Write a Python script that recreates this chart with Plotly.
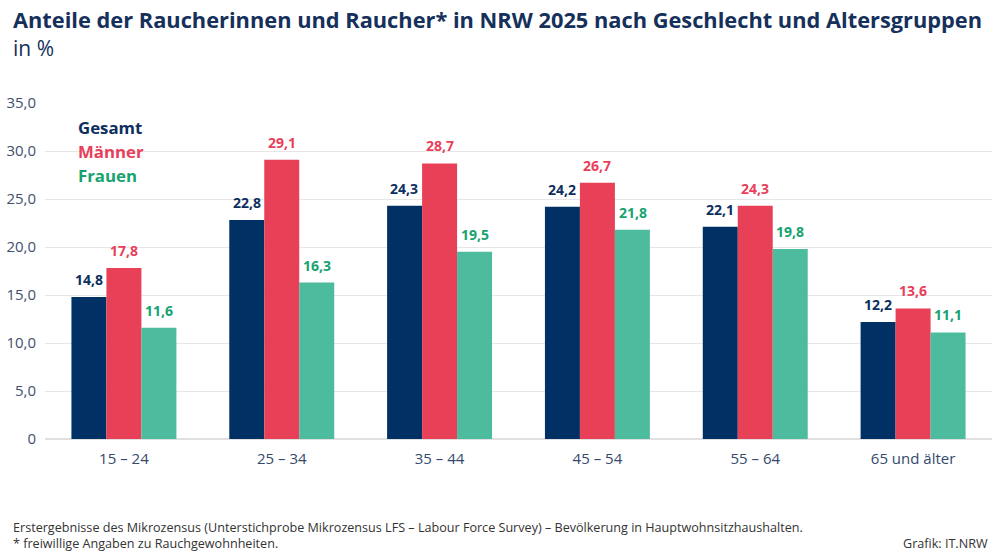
import plotly.graph_objects as go

# Anteile der Raucher nach Altersgruppen (in %)
age_groups = ['15 – 24', '25 – 34', '35 – 44', '45 – 54', '55 – 64', '65 und älter']
gesamt = [14.8, 22.8, 24.3, 24.2, 22.1, 12.2]
maenner = [17.8, 29.1, 28.7, 26.7, 24.3, 13.6]
frauen = [11.6, 16.3, 19.5, 21.8, 19.8, 11.1]

y_ticks = [0, 5, 10, 15, 20, 25, 30, 35]
y_ticktext = ['0', '5,0', '10,0', '15,0', '20,0', '25,0', '30,0', '35,0']

FONT = 'Open Sans'
series = [
    ('Gesamt', gesamt, '#003064', '#0d2f5e'),
    ('Männer', maenner, '#e84057', '#e8405a'),
    ('Frauen', frauen, '#4dbb9e', '#17a26f'),
]

# plot area in pixels: x 45..992, y 103..439
def px_x(x):
    return (x - 45) / 947


def px_y(y):
    return (439 - y) / 336


BAR_PX = 35.2  # width of one bar in the group

fig = go.Figure()
for i, (name, vals, bar_col, txt_col) in enumerate(series):
    fig.add_trace(go.Bar(x=age_groups, y=vals, name=name,
                         marker=dict(color=bar_col, line=dict(width=0)),
                         showlegend=False, hoverinfo='x+y+name'))
    # value labels above the bars
    for cat, v in zip(age_groups, vals):
        fig.add_annotation(x=cat, y=v, text='<b>%s</b>' % f'{v:.1f}'.replace('.', ','),
                           xshift=(i - 1) * BAR_PX, yshift=6, yanchor='bottom',
                           showarrow=False,
                           font=dict(family=FONT, size=14, color=txt_col))

# legend as coloured text
for i, (name, vals, bar_col, txt_col) in enumerate(series):
    fig.add_annotation(text='<b>%s</b>' % name, xref='paper', yref='paper',
                       x=px_x(76), y=px_y(128 + i * 23.5),
                       xanchor='left', yanchor='middle', showarrow=False,
                       font=dict(family=FONT, size=16.8, color=txt_col))

fig.add_annotation(text='<b>Anteile der Raucherinnen und Raucher* in NRW 2025 nach Geschlecht und Altersgruppen</b>'
                        '<br><span style="font-size:21px">in %</span>',
                   xref='paper', yref='paper', x=px_x(11), y=px_y(3), xanchor='left', yanchor='top',
                   align='left', showarrow=False, font=dict(family=FONT, size=21.8, color='#15305a'))

fig.add_annotation(text='Erstergebnisse des Mikrozensus (Unterstichprobe Mikrozensus LFS – Labour Force Survey) – Bevölkerung in Hauptwohnsitzhaushalten.',
                   xref='paper', yref='paper', x=px_x(11), y=px_y(527), xanchor='left', yanchor='middle',
                   showarrow=False, font=dict(family=FONT, size=12.6, color='#333333'))
fig.add_annotation(text='* freiwillige Angaben zu Rauchgewohnheiten.',
                   xref='paper', yref='paper', x=px_x(11), y=px_y(543), xanchor='left', yanchor='middle',
                   showarrow=False, font=dict(family=FONT, size=12.6, color='#333333'))
fig.add_annotation(text='Grafik: IT.NRW', xref='paper', yref='paper', x=px_x(990), y=px_y(543),
                   xanchor='right', yanchor='middle', showarrow=False,
                   font=dict(family=FONT, size=12.6, color='#333333'))

fig.update_layout(
    width=999, height=559,
    margin=dict(l=45, r=7, t=103, b=120),
    barmode='group', bargap=0.335, bargroupgap=0,
    plot_bgcolor='white', paper_bgcolor='white',
    font=dict(family=FONT, color='#34496c'),
    xaxis=dict(tickfont=dict(size=15, color='#34496c'), showgrid=False,
               showline=False, ticks='', ticklabelstandoff=9),
    yaxis=dict(range=[0, 35], tickvals=y_ticks, ticktext=y_ticktext,
               tickfont=dict(size=15, color='#3e4f6e'), gridcolor='#e6e6e6',
               gridwidth=1, zeroline=True, zerolinecolor='#e0e0e0', ticks='',
               ticklabelstandoff=8),
)

fig.write_html('out.html', config={'displayModeBar': False},
               post_script="document.body.style.margin='0';")
